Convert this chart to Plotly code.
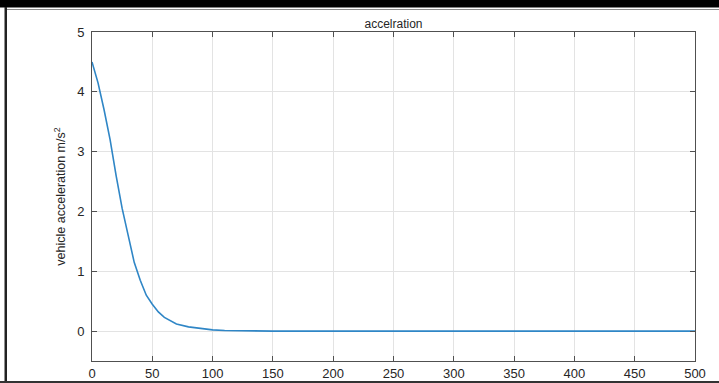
import plotly.graph_objects as go

# vehicle acceleration over time
time_s = [0, 5, 10, 15, 20, 25, 30, 35, 40, 45, 50, 55, 60, 65, 70, 80, 90,
          100, 110, 120, 150, 200, 250, 300, 350, 400, 450, 500]
accel = [4.5, 4.15, 3.7, 3.2, 2.6, 2.05, 1.6, 1.15, 0.85, 0.6, 0.45, 0.32,
         0.23, 0.17, 0.12, 0.07, 0.04, 0.02, 0.01, 0.005, 0, 0, 0, 0, 0, 0, 0, 0]

x_ticks = list(range(0, 501, 50))
y_ticks = [0, 1, 2, 3, 4, 5]

W, H = 719, 383
L, R, T, B = 92, 24, 32, 22
pw, ph = W - L - R, H - T - B


def px(x):
    return (x - L) / pw


def py(y):
    return (H - B - y) / ph


fig = go.Figure()
fig.add_trace(go.Scatter(x=time_s, y=accel, mode="lines",
                         line=dict(color="#2f86c6", width=1.6),
                         showlegend=False))

axis_common = dict(
    showline=True, linecolor="#505050", linewidth=1, mirror="ticks",
    ticks="inside", ticklen=5, tickcolor="#505050",
    showgrid=True, gridcolor="#e3e3e3", gridwidth=1, zeroline=False,
    automargin=False,
    tickfont=dict(family="Liberation Sans, Arial", size=13, color="#262626"),
)

fig.update_xaxes(range=[0, 500], tickvals=x_ticks, **axis_common)
fig.update_yaxes(range=[-0.5, 5], tickvals=y_ticks, ticklabelstandoff=4,
                 title=dict(text="vehicle acceleration m/s<sup>2</sup>",
                            font=dict(family="Liberation Sans, Arial", size=12.5,
                                      color="#262626"),
                            standoff=8),
                 **axis_common)

# outer frame around the figure
shapes = [
    dict(type="rect", xref="paper", yref="paper", x0=px(-2), x1=px(W + 2),
         y0=py(-3), y1=py(7.5), fillcolor="black", line=dict(width=0)),
    dict(type="line", xref="paper", yref="paper", x0=px(5), x1=px(W),
         y0=py(9.5), y1=py(9.5), line=dict(color="#8a8a8a", width=1)),
    dict(type="rect", xref="paper", yref="paper", x0=px(4.5), x1=px(7),
         y0=py(7), y1=py(H), fillcolor="#222222", line=dict(width=0)),
    dict(type="rect", xref="paper", yref="paper", x0=px(0), x1=px(W),
         y0=py(381), y1=py(H + 2), fillcolor="#333333", line=dict(width=0)),
]

fig.update_layout(
    width=W, height=H,
    margin=dict(l=L, r=R, t=T, b=B, autoexpand=False),
    paper_bgcolor="white", plot_bgcolor="white",
    title=dict(text="accelration", x=0.5, xref="paper", xanchor="center",
               y=1 - 24 / H, yanchor="middle",
               font=dict(family="Liberation Sans, Arial", size=12, color="#262626")),
    shapes=shapes,
)

fig.write_html("out.html")
